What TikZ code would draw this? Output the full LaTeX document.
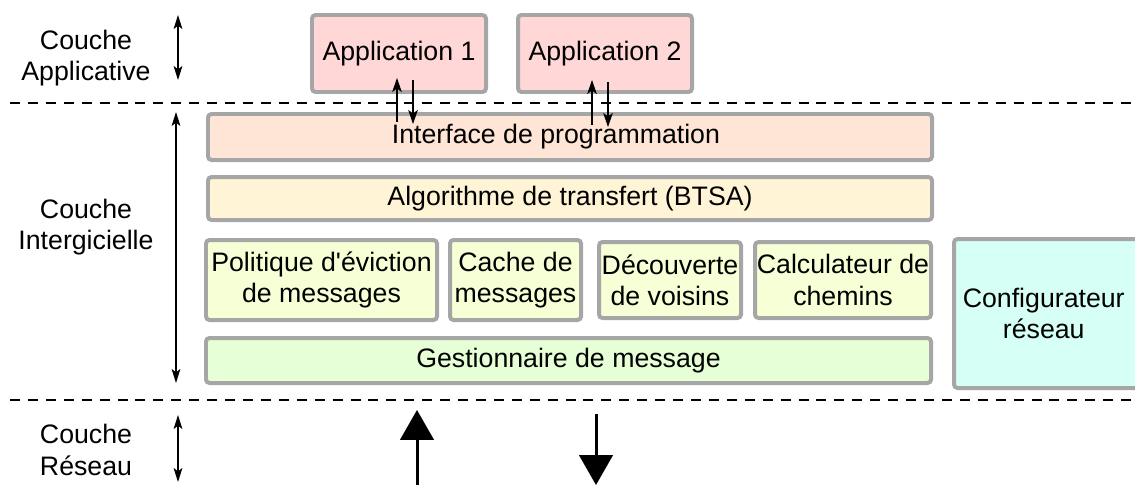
\documentclass[tikz,border=0pt]{standalone}
\usepackage{fontspec}
\setmainfont{Liberation Sans}
\usepackage{color}
\usepackage{tikz}
\usetikzlibrary{arrows.meta,calc}
\definecolor{boxgray}{RGB}{166,166,166}
\definecolor{appback}{RGB}{255,215,215}
\definecolor{ifaceback}{RGB}{255,229,214}
\definecolor{algoback}{RGB}{255,245,214}
\definecolor{modback}{RGB}{246,255,214}
\definecolor{gestback}{RGB}{230,255,214}
\definecolor{confback}{RGB}{214,255,245}

\begin{document}
\begin{tikzpicture}[x=0.02cm,y=-0.02cm,
  every node/.style={font=\fontsize{15.2pt}{17.8pt}\selectfont,align=center},
  bloc/.style={draw=boxgray,line width=2.27pt,rounded corners=2pt,inner sep=0pt},
  couche/.style={<->,>={Stealth[length=8pt,width=5pt,inset=2pt]},line width=0.6pt},
  fleche/.style={-{Stealth[length=8pt,width=5.5pt,inset=2pt]},line width=0.6pt},
  grosse/.style={-{Triangle[length=17pt,width=19pt]},line width=1.7pt},
  separation/.style={dash pattern=on 5.7pt off 4.5pt,line width=0.6pt}]
\useasboundingbox (0,0) rectangle (1135,484);

% separations entre couches
\draw[separation] (10,103) -- (1135,103);
\draw[separation] (10,400) -- (1135,400);

% couches
\node (lapp) at (86,58) {Couche\\Applicative};
\node (linter) at (86,227) {Couche\\Intergicielle};
\node (lres) at (86,450) {Couche\\Réseau};
\draw[couche] ($(lapp)+(92,-43)$) -- ($(lapp)+(92,22)$);
\draw[couche] ($(linter)+(90,-115)$) -- ($(linter)+(90,156)$);
\draw[couche] ($(lres)+(92,-35)$) -- ($(lres)+(92,32)$);

% applications
\node[bloc,fill=appback,minimum width=174*0.02cm,minimum height=77*0.02cm] (app1) at (399,53.5) {Application 1};
\node[bloc,fill=appback,minimum width=174*0.02cm,minimum height=77*0.02cm] (app2) at (605,53.5) {Application 2};

% intergiciel
\node[bloc,fill=ifaceback,minimum width=724*0.02cm,minimum height=46*0.02cm] (iface) at (570,137) {Interface de programmation\hspace*{16pt}};
\node[bloc,fill=algoback,minimum width=724*0.02cm,minimum height=43*0.02cm] (algo) at (570,198.5) {Algorithme de transfert (BTSA)};
\node[bloc,fill=modback,minimum width=231*0.02cm,minimum height=80*0.02cm] (polit) at (321.5,280) {Politique d\textquotesingle éviction\\de messages};
\node[bloc,fill=modback,minimum width=131*0.02cm,minimum height=80*0.02cm] (cache) at (515.5,280) {Cache de\\messages};
\node[bloc,fill=modback,minimum width=142*0.02cm,minimum height=76*0.02cm] (decouv) at (670,280) {Découverte\\de voisins};
\node[bloc,fill=modback,minimum width=176*0.02cm,minimum height=76*0.02cm] (calc) at (843,280) {Calculateur de\\chemins};
\node[bloc,fill=gestback,minimum width=725*0.02cm,minimum height=45*0.02cm] (gest) at (568.5,360.5) {Gestionnaire de message};
\node[bloc,fill=confback,minimum width=190*0.02cm,minimum height=149*0.02cm] (config) at (1049,313.5) {Configurateur\hspace*{6pt}\\réseau\hspace*{6pt}};

% echanges applications / interface
\draw[fleche] ($(app1.south)+(-2,28)$) -- ($(app1.south)+(-2,-16)$);
\draw[fleche] ($(app1.south)+(14,-14)$) -- ($(app1.south)+(14,30)$);
\draw[fleche] ($(app2.south)+(-13,31)$) -- ($(app2.south)+(-13,-14)$);
\draw[fleche] ($(app2.south)+(3,-12)$) -- ($(app2.south)+(3,33)$);

% echanges avec le reseau
\draw[grosse] ($(gest.south)+(-151.5,101)$) -- ($(gest.south)+(-151.5,25)$);
\draw[grosse] ($(gest.south)+(27.5,29)$) -- ($(gest.south)+(27.5,100)$);
\end{tikzpicture}
\end{document}
